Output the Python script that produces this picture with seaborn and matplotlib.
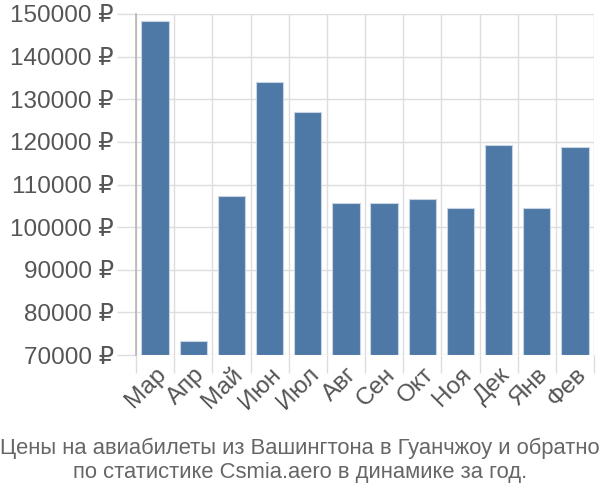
import matplotlib
matplotlib.use("Agg")
import matplotlib.pyplot as plt
import seaborn as sns
import pandas as pd
import numpy as np
from matplotlib.ticker import FixedLocator

months = ["Мар", "Апр", "Май", "Июн", "Июл", "Авг", "Сен", "Окт", "Ноя", "Дек", "Янв", "Фев"]
prices = [148300, 73200, 107400, 134000, 127000, 105600, 105600, 106500, 104600, 119200, 104600, 118800]
yticks = [70000, 80000, 90000, 100000, 110000, 120000, 130000, 140000, 150000]
ytick_labels = [f"{v} ₽" for v in yticks]
caption = "Цены на авиабилеты из Вашингтона в Гуанчжоу и обратно\nпо статистике Csmia.aero в динамике за год."

sns.set_theme(style="white")
plt.rcParams['font.family'] = ['Liberation Sans', 'DejaVu Sans']

df = pd.DataFrame({"month": months, "price": prices})

fig = plt.figure(figsize=(6, 5), dpi=100)
ax = fig.add_axes([136/600, 1-355/500, (594-136)/600, (355-14)/500])

base = 70000
sns.barplot(data=df, x="month", y=[p - base for p in prices], ax=ax, color="#4e78a6",
            saturation=1, width=0.72, edgecolor="#c8d4e2", linewidth=0.8, bottom=base, zorder=3)

ax.set_ylim(70000, 150000)
ax.set_xlim(-0.5, len(months) - 0.5)
ax.set_yticks(yticks)
ax.set_yticklabels(ytick_labels)
ax.set_xlabel("")
ax.set_ylabel("")

# vertical grid lines at category boundaries
bounds = np.arange(-0.5, len(months), 1.0)
ax.xaxis.set_minor_locator(FixedLocator(bounds))
ax.grid(True, which="minor", axis="x", color="#dddddd", linewidth=1, zorder=0)
ax.grid(True, which="major", axis="y", color="#dddddd", linewidth=1, zorder=0)
ax.grid(False, which="major", axis="x")

ax.tick_params(axis="x", which="minor", length=13, color="#dddddd", width=1, bottom=True)
ax.tick_params(axis="x", which="major", length=0, labelsize=17.5, labelcolor="#555555", pad=6)
ax.tick_params(axis="y", which="major", length=14, color="#dddddd", width=1, left=True,
               labelsize=17.5, labelcolor="#555555", pad=2)

for lbl in ax.get_xticklabels():
    lbl.set_rotation(45)
    lbl.set_ha("right")
    lbl.set_rotation_mode("anchor")

for s in ["top", "right", "bottom"]:
    ax.spines[s].set_visible(False)
ax.spines["left"].set_color("#b5b5b5")
ax.spines["left"].set_linewidth(1.2)

fig.text(0.5, 0.08, caption, ha="center", va="center", fontsize=15.8, color="#666666",
         linespacing=1.2)

fig.savefig("out.png", dpi=100)
